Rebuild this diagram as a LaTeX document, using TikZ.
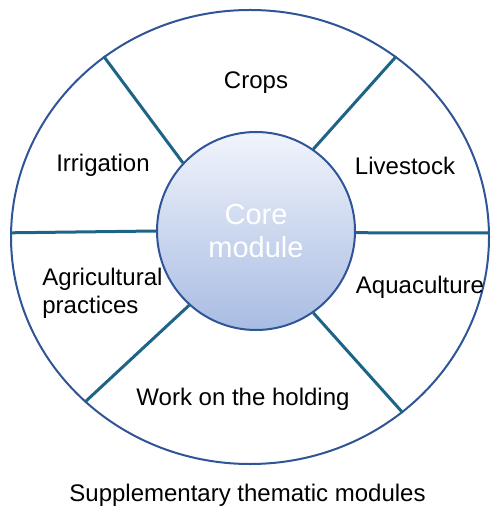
\documentclass[tikz,border=0pt]{standalone}
\usepackage{fontspec}
\setmainfont{Liberation Sans}
\usetikzlibrary{positioning,shapes.geometric}
\definecolor{ringblue}{RGB}{47,85,151}
\definecolor{spokeblue}{RGB}{30,100,135}
\definecolor{coretop}{RGB}{241,244,251}
\definecolor{corebottom}{RGB}{168,188,227}

\begin{document}
\begin{tikzpicture}[x=0.5pt,y=-0.5pt,
		% Style cho nhãn các module
		module_text/.style={font=\fontsize{12}{13.5}\selectfont, text=black, inner sep=0pt},
		% Style cho các nan chia
		spoke_line/.style={spokeblue, line width=1.5pt}
		]
		\useasboundingbox (0,0) rectangle (491,507);
		
		% --- VÒNG NGOÀI VÀ LÕI ---
		\node[ellipse, draw=ringblue, line width=1pt, minimum width=239pt, minimum height=227pt, inner sep=0pt] (ring) at (250,237) {};
		\node[circle, draw=ringblue, line width=1pt, minimum size=99pt, inner sep=0pt,
		top color=coretop, bottom color=corebottom, text=white, align=center,
		font=\fontsize{14.5}{16.5}\selectfont] (core) at (256,231) {Core\\module};
		
		% --- CÁC NAN CHIA ---
		\foreach \a/\b in {137/129.5, 55.5/51.1, 180/179.6, 359/1.0, 228.7/225.9, 305.7/311.1}
		\draw[spoke_line] (core.\a) -- (ring.\b);
		
		% --- NHÃN ---
		\node[module_text, anchor=base] (crops) at (256,89) {Crops};
		\node[module_text, anchor=base] (irrig) at (103,172) {Irrigation};
		\node[module_text, anchor=base] (live) at (405,175) {Livestock};
		\node[module_text, anchor=base west, align=left] (agri) at (42,313) {Agricultural\\practices};
		\node[module_text, anchor=base] (aqua) at (420,293) {Aquaculture};
		\node[module_text, anchor=base] (work) at (243,405) {Work on the holding};
		\node[module_text, anchor=base] (supp) at (247.5,501) {Supplementary thematic modules};
		
	\end{tikzpicture}
\end{document}
